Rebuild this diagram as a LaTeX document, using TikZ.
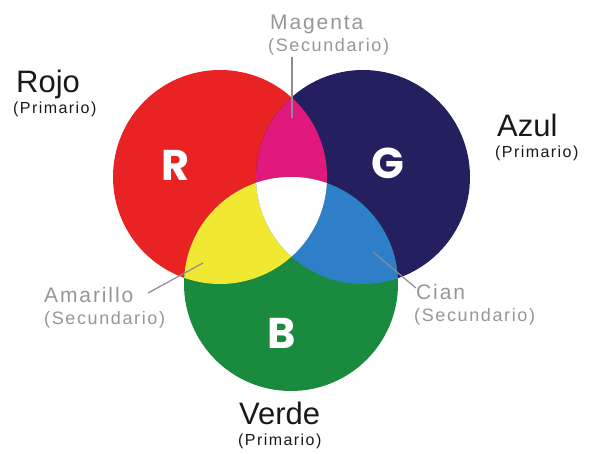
\documentclass[tikz,border=0pt]{standalone}
\usepackage{fontspec}
\setmainfont{Liberation Sans}
\newfontfamily\letterfont{Poppins}
\definecolor{cred}{RGB}{233,35,36}
\definecolor{cnavy}{RGB}{36,32,96}
\definecolor{cgreen}{RGB}{25,138,62}
\definecolor{cyellow}{RGB}{240,232,50}
\definecolor{cmagenta}{RGB}{223,26,124}
\definecolor{ccyan}{RGB}{47,127,200}
\definecolor{txtblack}{RGB}{25,25,25}
\definecolor{txtgrey}{RGB}{150,150,155}
\definecolor{leadgrey}{RGB}{140,140,145}
\begin{document}
\begin{tikzpicture}[x=1pt,y=-1pt,
  big/.style={font=\fontsize{31}{31}\selectfont, text=txtblack, inner sep=0pt, anchor=base west},
  prim/.style={font=\fontsize{16}{16}\selectfont\addfontfeatures{LetterSpace=9}, text=txtblack, inner sep=0pt, anchor=base west},
  sec/.style={font=\fontsize{21}{21}\selectfont\addfontfeatures{LetterSpace=9}, text=txtgrey, inner sep=0pt, anchor=base west},
  secsub/.style={font=\fontsize{18}{18}\selectfont\addfontfeatures{LetterSpace=9}, text=txtgrey, inner sep=0pt, anchor=base west},
  letter/.style={font=\letterfont\bfseries\fontsize{43}{43}\selectfont, text=white, inner sep=0pt},
  leader/.style={draw=leadgrey, line width=1.2pt}
]
\useasboundingbox (0,0) rectangle (590,454);
\coordinate (cR) at (220,177);
\coordinate (cB) at (363,177);
\coordinate (cG) at (291,284);
% primaries
\fill[cred] (cR) circle (107pt);
\fill[cnavy] (cB) circle (107pt);
\fill[cgreen] (cG) circle (107pt);
% secondaries
\begin{scope}
  \clip (cR) circle (107pt);
  \fill[cmagenta] (cB) circle (107pt);
  \fill[cyellow] (cG) circle (107pt);
\end{scope}
\begin{scope}
  \clip (cB) circle (107pt);
  \fill[ccyan] (cG) circle (107pt);
\end{scope}
\begin{scope}
  \clip (cR) circle (107pt);
  \clip (cB) circle (107pt);
  \fill[white] (cG) circle (107pt);
\end{scope}
% letters
\node[letter] (lR) at (176,165) {R};
\node[letter] (lG) at (388,163) {G};
\node[letter] (lB) at (282,333) {B};
% primary labels
\node[big] (rojo) at (16,93) {Rojo};
\node[prim] (rojop) at (13,114) {(Primario)};
\node[big] (azul) at (497,137) {Azul};
\node[prim] (azulp) at (495,158) {(Primario)};
\node[big] (verde) at (239,425) {Verde};
\node[prim] (verdep) at (238,446) {(Primario)};
% secondary labels
\node[sec] (mag) at (270,30) {Magenta};
\node[secsub] (magp) at (268,52) {(Secundario)};
\node[sec] (ama) at (44,303) {Amarillo};
\node[secsub] (amap) at (44,325) {(Secundario)};
\node[sec] (cian) at (416,300) {Cian};
\node[secsub] (cianp) at (414,322) {(Secundario)};
% leaders
\coordinate (magA) at (292,57);
\coordinate (magB) at (292,118);
\coordinate (amaA) at (148,293);
\coordinate (amaB) at (203,263);
\coordinate (cianA) at (416,288);
\coordinate (cianB) at (373,252);
\draw[leader] (magA) -- (magB);
\draw[leader] (amaA) -- (amaB);
\draw[leader] (cianA) -- (cianB);
\end{tikzpicture}
\end{document}
